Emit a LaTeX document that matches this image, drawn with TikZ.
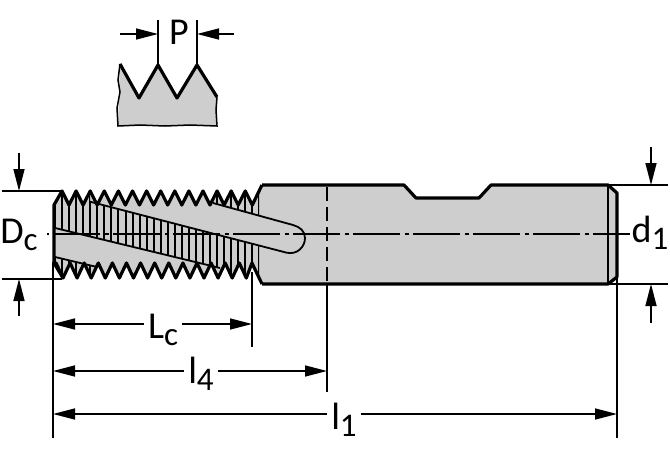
\documentclass[tikz,border=0pt]{standalone}
\usepackage{fontspec}
\setmainfont{Carlito}
\usetikzlibrary{arrows.meta}
\definecolor{toolgray}{HTML}{CECECE}
\tikzset{
	outline/.style={line width=3.2pt,line join=round},
	thinline/.style={line width=1.5pt},
	dimarrow/.style={line width=1.5pt,-{Triangle[length=22pt,width=11pt]}},
	dimlabel/.style={anchor=base,inner sep=4pt,font=\fontsize{38}{38}\selectfont},
}
\newcommand{\lowsub}[1]{\raisebox{-7pt}{\fontsize{33}{33}\selectfont #1}}
\def\threadtop{
	(63,278) -- (54,263) -- (54,205) -- (62,191)
	\foreach \k in {0,...,13} { -- ({62+14.1*\k},191) -- ({69+14.1*\k},205) }
	-- (262,185)
}
\def\threadbot{
	(262,284) -- (252,263)
	\foreach \k in {13,12,...,0} { -- ({63+14.1*\k},278) -- ({56+14.1*\k},263) }
	-- (54,263)
}
\begin{document}
\begin{tikzpicture}[x=1pt,y=-1pt]
	\useasboundingbox (0,0) rectangle (670,460);
	% pitch profile
	\fill[toolgray] (120,64) -- (139,98) -- (158,65) -- (177,98) -- (197,65) -- (217,97) -- (217,126) -- (118,126) -- cycle;
	\draw[thinline] (120,64) -- (118,80) -- (120,92) -- (117,108) -- (118,126) -- (140,125) -- (165,126) -- (190,125) -- (217,126) -- (216,110) -- (217,97);
	\draw[outline] (120,64) -- (139,98) -- (158,65) -- (177,98) -- (197,65) -- (217,97);
	\coordinate (pl) at (158,65);
	\coordinate (pr) at (197,65);
	\draw[thinline] (pl) -- (158,20);
	\draw[thinline] (pr) -- (197,20);
	\node[dimlabel] (pitch) at (179,45) {P};
	\coordinate (plstart) at (120,34);
	\coordinate (prstart) at (234,34);
	\draw[dimarrow] (plstart) -- (158,34);
	\draw[dimarrow] (prstart) -- (197,34);
	% shank
	\fill[toolgray] (262,185) -- (404,185) -- (416,198) -- (479,198) -- (491,185) -- (608,185) -- (617,193) -- (617,277) -- (608,284) -- (262,284) -- cycle;
	% threaded part
	\fill[toolgray] \threadtop -- \threadbot -- cycle;
	\begin{scope}
		\clip \threadtop -- \threadbot -- cycle;
		\clip (54,185) -- (90,185) -- (90,201.7) -- (259,245.5) -- (259,285) -- (220,268) -- (55,228) -- cycle
			(213,185) -- (213,203) -- (259,215.5) -- (259,185) -- cycle
			(54,257) -- (97,267) -- (97,285) -- (54,285) -- cycle;
		\foreach \k in {0,...,29} {
			\draw[line width=2pt] ({55+7.05*\k},185) -- ({55+7.05*\k},285);
		}
	\end{scope}
	% flutes
	\draw[line width=1.8pt] (90,201.7) -- (286.7,252.7) .. controls (297,255) and (305,247) .. (305,238) .. controls (305,231) and (300,227) .. (293,225) -- (213,203);
	\draw[line width=1.8pt] (55,228) -- (220,268);
	\draw[line width=1.8pt] (55,257) -- (97,267);
	\draw[outline] \threadtop;
	\draw[outline] \threadbot;
	\draw[outline] (262,185) -- (404,185) -- (416,198) -- (479,198) -- (491,185) -- (608,185) -- (617,193) -- (617,277) -- (608,284) -- (262,284);
	\draw[thinline] (608,185) -- (608,284);
	% axis
	\draw[line width=1.5pt,dash pattern=on 47pt off 5pt on 4pt off 4pt,dash phase=54pt] (47,234) -- (630,234);
	\draw[thinline,dash pattern=on 14pt off 6pt] (327,187) -- (327,284);
	% extension lines
	\coordinate (dctop) at (2,191);
	\coordinate (dcbot) at (2,279);
	\coordinate (dltop) at (668,185);
	\coordinate (dlbot) at (668,284);
	\draw[thinline] (dctop) -- (62,191);
	\draw[thinline] (dcbot) -- (62,279);
	\draw[thinline] (608,185) -- (dltop);
	\draw[thinline] (608,284) -- (dlbot);
	\draw[thinline] (53,262) -- (53,438);
	\draw[thinline] (252,272) -- (252,347);
	\draw[thinline] (327,284) -- (327,392);
	\draw[thinline] (617,277) -- (617,438);
	% diameters
	\coordinate (dca) at (19,153);
	\coordinate (dcb) at (19,316);
	\coordinate (dla) at (651,147);
	\coordinate (dlb) at (651,323);
	\draw[dimarrow] (dca) -- (19,191);
	\draw[dimarrow] (dcb) -- (19,279);
	\draw[dimarrow] (dla) -- (651,185);
	\draw[dimarrow] (dlb) -- (651,284);
	\node[dimlabel] (dc) at (19,243) {D\lowsub{c}};
	\node[dimlabel] (dl) at (650,242) {d\lowsub{1}};
	% lengths
	\node[dimlabel] (lc) at (163,338) {L\lowsub{c}};
	\node[dimlabel] (lf) at (201,383) {l\lowsub{4}};
	\node[dimlabel] (lo) at (344,429) {l\lowsub{1}};
	\coordinate (lca) at (53,324);
	\coordinate (lcb) at (252,324);
	\coordinate (lfa) at (53,371);
	\coordinate (lfb) at (327,371);
	\coordinate (loa) at (53,414);
	\coordinate (lob) at (617,414);
	\draw[dimarrow] (lc.west |- lca) -- (lca);
	\draw[dimarrow] (lc.east |- lcb) -- (lcb);
	\draw[dimarrow] (lf.west |- lfa) -- (lfa);
	\draw[dimarrow] (lf.east |- lfb) -- (lfb);
	\draw[dimarrow] (lo.west |- loa) -- (loa);
	\draw[dimarrow] (lo.east |- lob) -- (lob);
\end{tikzpicture}
\end{document}
